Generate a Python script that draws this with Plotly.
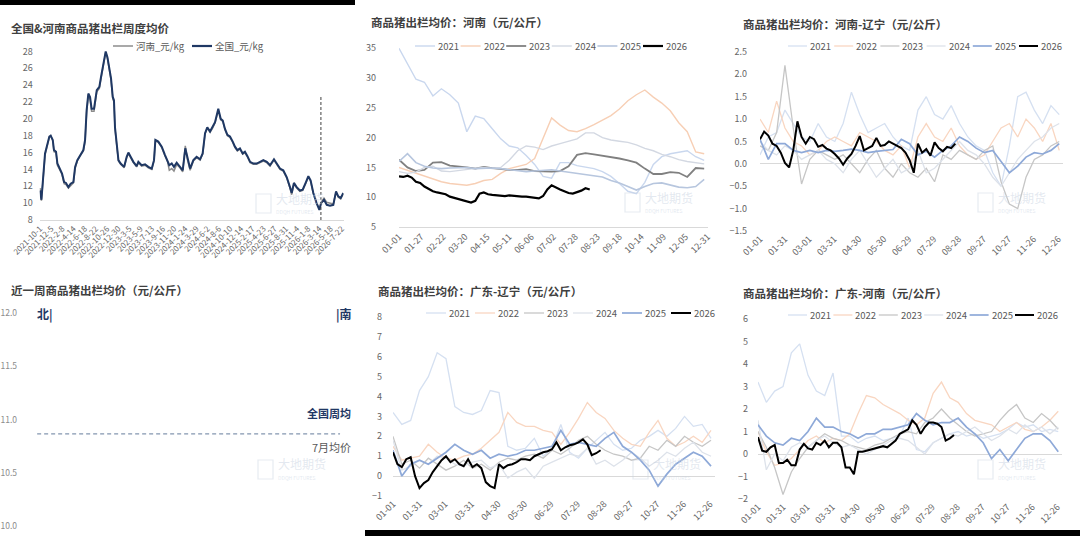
import pandas as pd
import plotly.graph_objects as go

W, H = 1080, 536
FONT = "Noto Sans CJK SC"

# ========== 数据 ==========
# 全国 & 河南 商品猪出栏周度均价 (元/kg)
WEEK_DATES = [
    "2021-10-01", "2021-10-09", "2021-10-30", "2021-11-09", "2021-11-24", "2021-12-02", "2021-12-14", "2021-12-21",
    "2022-01-02", "2022-01-10", "2022-01-25", "2022-02-06", "2022-02-18", "2022-03-01", "2022-03-15", "2022-03-28",
    "2022-04-13", "2022-04-23", "2022-05-06", "2022-05-22", "2022-06-10", "2022-06-20", "2022-06-29", "2022-07-09",
    "2022-07-19", "2022-07-28", "2022-08-11", "2022-08-27", "2022-09-11", "2022-09-21", "2022-10-04", "2022-10-18",
    "2022-10-28", "2022-11-08", "2022-11-18", "2022-11-28", "2022-12-05", "2022-12-11", "2022-12-21", "2022-12-31",
    "2023-01-13", "2023-02-02", "2023-02-17", "2023-02-27", "2023-03-12", "2023-03-28", "2023-04-16", "2023-04-26",
    "2023-05-15", "2023-06-04", "2023-06-23", "2023-07-13", "2023-07-26", "2023-08-03", "2023-08-20", "2023-09-09",
    "2023-09-28", "2023-10-12", "2023-10-23", "2023-11-06", "2023-11-19", "2023-12-05", "2023-12-24", "2024-01-09",
    "2024-01-24", "2024-02-05", "2024-02-21", "2024-03-11", "2024-03-30", "2024-04-19", "2024-05-04", "2024-05-18",
    "2024-05-31", "2024-06-16", "2024-07-01", "2024-07-15", "2024-08-03", "2024-08-17", "2024-08-29", "2024-09-11",
    "2024-09-25", "2024-10-10", "2024-10-26", "2024-11-08", "2024-11-22", "2024-12-07", "2024-12-23", "2025-01-05",
    "2025-01-19", "2025-02-04", "2025-02-23", "2025-03-14", "2025-04-03", "2025-04-22", "2025-05-12", "2025-05-31",
    "2025-06-23", "2025-07-09", "2025-07-28", "2025-08-16", "2025-09-05", "2025-09-24", "2025-10-04", "2025-10-17",
    "2025-11-02", "2025-11-21", "2025-12-07", "2025-12-26", "2026-01-09", "2026-01-22", "2026-02-07", "2026-02-26",
    "2026-03-14", "2026-03-24", "2026-04-10", "2026-04-26", "2026-05-15", "2026-06-03", "2026-06-19", "2026-07-02",
    "2026-07-16", "2026-07-31",
]
NATION = [
    11.5, 10.4, 15.9, 16.7, 17.9, 18.0, 17.5, 16.3, 16.1, 14.7,
    14.1, 13.5, 12.5, 12.4, 11.9, 12.3, 12.5, 14.3, 15.1, 15.7,
    16.3, 17.5, 21.0, 23.0, 22.6, 21.2, 21.2, 23.4, 23.8, 25.0,
    26.5, 28.0, 27.3, 25.8, 24.8, 22.6, 22.2, 19.0, 17.1, 15.1,
    14.7, 14.3, 15.5, 16.0, 15.5, 14.9, 14.4, 14.9, 14.5, 14.6,
    14.3, 14.1, 15.1, 17.5, 17.3, 16.7, 15.7, 15.1, 14.5, 14.7,
    14.3, 14.8, 14.3, 13.9, 16.5, 15.3, 14.1, 15.1, 15.5, 15.2,
    15.9, 18.3, 19.0, 18.5, 19.0, 19.6, 21.2, 20.0, 19.8, 18.8,
    18.1, 17.9, 17.3, 16.7, 16.3, 16.5, 15.9, 16.1, 15.6, 14.9,
    14.7, 14.7, 14.9, 15.1, 14.9, 14.5, 15.2, 14.7, 14.1, 13.9,
    13.1, 11.9, 11.2, 12.4, 11.9, 11.5, 11.6, 12.5, 13.2, 12.7,
    11.2, 10.0, 9.2, 10.0, 10.4, 9.8, 9.7, 9.8, 11.4, 10.8,
    10.6, 11.2,
]
HENAN = [
    11.8, 10.3, 15.7, 16.6, 17.8, 18.0, 17.4, 16.1, 16.0, 14.5,
    13.9, 13.4, 12.3, 12.2, 11.8, 12.1, 12.4, 14.1, 15.0, 15.6,
    16.2, 17.3, 20.8, 22.8, 22.3, 20.9, 20.9, 23.2, 23.6, 24.8,
    26.4, 27.9, 27.2, 25.6, 24.6, 22.4, 22.0, 18.8, 16.9, 15.0,
    14.6, 14.2, 15.4, 15.9, 15.4, 14.8, 14.3, 14.8, 14.4, 14.5,
    14.2, 14.0, 15.0, 17.4, 17.2, 16.6, 15.6, 15.0, 13.9, 14.1,
    13.8, 14.6, 14.2, 13.7, 16.8, 15.2, 13.9, 15.0, 15.4, 15.1,
    15.8, 18.2, 18.9, 18.4, 18.9, 19.5, 21.0, 19.9, 19.7, 18.7,
    18.0, 17.8, 17.2, 16.6, 16.2, 16.4, 15.8, 16.0, 15.5, 14.8,
    14.6, 14.6, 14.8, 15.0, 14.8, 14.4, 15.1, 14.6, 14.0, 13.8,
    13.0, 11.8, 11.0, 12.3, 11.8, 11.4, 11.5, 12.4, 13.1, 12.6,
    11.1, 10.0, 9.3, 10.1, 10.6, 10.1, 10.0, 9.9, 11.3, 10.7,
    10.5, 11.1,
]
WEEK_TICKS = [
    "2021-10-1", "2021-12-5", "2022-2-8", "2022-4-14", "2022-6-18", "2022-8-22", "2022-10-26",
    "2022-12-30", "2023-3-5", "2023-5-9", "2023-7-13", "2023-9-16", "2023-11-20", "2024-1-24",
    "2024-3-29", "2024-6-2", "2024-8-6", "2024-10-10", "2024-12-14", "2025-2-17", "2025-4-23",
    "2025-6-27", "2025-8-31", "2025-11-4", "2026-1-8", "2026-3-14", "2026-5-18", "2026-7-22",
]
MARK_DATE = "2026-03-23"
MARK_TOP = 22.6

# 季节性图 日期(月-日)
GRID10 = [
    "01-01", "01-11", "01-21", "01-31", "02-10", "02-20", "03-02", "03-12", "03-22", "04-01",
    "04-11", "04-21", "05-01", "05-11", "05-21", "05-31", "06-10", "06-20", "06-30", "07-10",
    "07-20", "07-30", "08-09", "08-19", "08-29", "09-08", "09-18", "09-28", "10-08", "10-18",
    "10-28", "11-07", "11-17", "11-27", "12-07", "12-17", "12-27",
]
GRID5 = [
    "01-01", "01-06", "01-11", "01-16", "01-21", "01-26", "01-31", "02-05", "02-10", "02-15",
    "02-20", "02-25", "03-02", "03-07", "03-12", "03-17", "03-22", "03-27", "04-01", "04-06",
    "04-11", "04-16", "04-21", "04-26", "05-01", "05-06", "05-11", "05-16", "05-21", "05-26",
    "05-31", "06-05", "06-10", "06-15", "06-20", "06-25", "06-30", "07-05", "07-10", "07-15",
    "07-20", "07-25", "07-30", "08-04", "08-09", "08-14", "08-19", "08-24",
]
YEARS = ["2021", "2022", "2023", "2024", "2025", "2026"]
TICKS_HN = ["01-01", "01-27", "02-22", "03-20", "04-15", "05-11", "06-06", "07-02",
            "07-28", "08-23", "09-18", "10-14", "11-09", "12-05", "12-31"]
TICKS_SP = ["01-01", "01-31", "03-01", "03-31", "04-30", "05-30", "06-29",
            "07-29", "08-28", "09-27", "10-27", "11-26", "12-26"]

# 河南 (元/公斤)
HN_2021 = [35.0, 32.5, 29.8, 29.3, 27.0, 28.2, 27.2, 25.8, 21.0, 23.6, 23.2, 21.5, 19.8, 18.6, 18.3, 17.0, 15.5, 13.5, 13.2,
           15.8, 15.8, 15.3, 15.0, 14.8, 14.3, 13.5, 12.3, 11.0, 10.6, 12.5, 15.5, 16.8, 17.3, 17.6, 17.8, 16.8, 16.2]
HN_2022 = [15.0, 14.5, 14.0, 13.6, 13.0, 12.6, 12.3, 12.2, 12.0, 12.3, 12.8, 13.0, 14.0, 14.8, 15.2, 15.5, 16.5, 20.0, 23.3,
           22.1, 21.2, 21.0, 21.5, 22.2, 23.0, 23.7, 24.8, 26.2, 27.2, 28.0, 26.8, 25.8, 24.5, 22.5, 21.0, 17.6, 17.3]
HN_2023 = [16.3, 15.0, 14.4, 14.6, 15.8, 15.9, 15.3, 15.2, 15.0, 14.8, 15.1, 14.9, 14.7, 14.6, 14.6, 14.7, 14.4, 14.3, 14.3,
           14.4, 15.2, 17.1, 17.4, 17.2, 17.0, 16.8, 16.5, 16.2, 15.8, 14.8, 13.9, 13.9, 14.2, 14.1, 13.4, 14.9, 14.8]
HN_2024 = [14.3, 14.0, 14.2, 15.0, 15.2, 14.4, 14.3, 14.5, 14.7, 14.9, 15.0, 14.8, 15.0, 16.2, 17.8, 18.6, 18.4, 18.0, 18.6,
           19.0, 19.4, 19.8, 20.8, 20.8, 20.0, 19.6, 19.4, 19.2, 18.8, 18.2, 17.8, 17.2, 16.8, 16.3, 16.0, 15.8, 15.6]
HN_2025 = [16.0, 17.3, 15.8, 15.2, 14.9, 14.8, 14.9, 15.0, 15.0, 14.8, 14.9, 14.9, 14.8, 14.6, 14.5, 14.3, 14.4, 14.5, 14.6,
           14.4, 14.2, 14.0, 13.8, 13.6, 13.4, 12.8, 12.4, 11.8, 11.2, 11.8, 12.3, 12.4, 12.0, 11.7, 11.6, 11.8, 13.0]
HN_2026 = [13.5, 13.4, 13.6, 13.3, 12.6, 12.4, 11.8, 11.4, 11.0, 10.8, 10.6, 10.5, 10.1, 9.9, 9.8, 9.5, 9.3, 9.1, 9.4,
           10.6, 10.8, 10.5, 10.4, 10.3, 10.3, 10.2, 10.3, 10.2, 10.2, 10.1, 10.1, 10.0, 10.0, 9.8, 10.2, 11.3, 12.0,
           11.6, 11.3, 11.0, 10.7, 10.6, 10.8, 11.1, 11.5, 11.3]

# 河南-辽宁 价差
HL_2021 = [0.2, 0.6, 0.7, 1.2, 0.9, 0.6, 0.5, 0.9, 0.6, 0.5, 0.9, 1.6, 1.1, 0.7, 0.8, 0.9, 0.6, 0.4, 0.3,
           1.2, 1.5, 1.1, 1.0, 1.3, 0.9, 0.6, 0.4, 0.3, -0.2, -0.5, 0.4, 1.5, 1.6, 1.2, 0.9, 1.3, 1.1]
HL_2022 = [1.0, 0.7, 1.4, 0.8, 0.5, 0.4, 0.2, 0.3, 0.5, 0.6, 0.5, 0.4, 0.7, 0.6, 0.5, 0.3, 0.2, 0.4, -0.1,
           0.6, 0.9, 0.6, 0.5, 0.8, 0.4, 0.2, 0.1, 0.2, 0.5, 0.8, 0.9, 0.6, 1.0, 0.8, 0.5, 0.9, 0.3]
HL_2023 = [0.4, 0.3, 0.7, 2.2, 0.8, -0.45, 0.1, 0.3, 0.2, 0.1, 0.2, 0.0, -0.2, 0.1, 0.3, -0.1, -0.3, 0.0, -0.2,
           -0.3, -0.1, -0.4, 0.2, 0.1, 0.3, 0.2, 0.1, 0.3, 0.4, -0.4, -0.9, -1.0, -0.3, 0.1, 0.2, 0.4, 0.5]
HL_2024 = [0.5, 0.3, 0.2, 0.4, 0.3, 0.1, 0.2, 0.3, 0.1, 0.0, -0.2, 0.1, 0.3, 0.0, -0.3, -0.1, 0.1, -0.2, -0.1,
           0.3, -0.2, -0.1, 0.1, 0.3, 0.5, 0.3, 0.2, 0.0, -0.3, -0.5, -0.2, 0.1, 0.3, 0.5, 0.6, 0.8, 0.9]
HL_2025 = [0.55, 0.1, 0.45, 0.45, 0.30, 0.25, 0.30, 0.25, 0.30, 0.28, 0.30, 0.33, 0.30, 0.25, 0.28, 0.30, 0.32, 0.55, 0.45,
           0.20, 0.28, 0.15, 0.30, 0.40, 0.60, 0.50, 0.35, 0.25, 0.30, 0.05, -0.20, -0.05, 0.15, 0.25, 0.22, 0.30, 0.45]
HL_2026 = [0.55, 0.72, 0.63, 0.45, 0.40, 0.25, 0.02, -0.08, 0.30, 0.95, 0.60, 0.45, 0.60, 0.55, 0.38, 0.42, 0.34, 0.30,
           0.22, 0.12, -0.02, 0.12, 0.22, 0.40, 0.62, 0.30, 0.35, 0.40, 0.58, 0.40, 0.42, 0.50, 0.45, 0.40, 0.35, 0.25,
           0.08, -0.20, 0.45, 0.25, 0.33, 0.18, 0.48, 0.35, 0.28, 0.38, 0.35, 0.45]

# 广东-辽宁 价差
GL_2021 = [3.2, 2.6, 2.8, 4.3, 5.0, 6.2, 5.9, 3.5, 3.2, 3.1, 3.3, 4.3, 4.2, 1.5, 1.3, 1.4, 1.9, 1.0, 1.4,
           2.6, 1.2, 0.9, 1.4, 1.8, 2.2, 1.6, 1.3, 1.4, 1.8, 2.0, 2.3, 2.0, 2.4, 3.0, 2.5, 2.6, 1.9]
GL_2022 = [1.5, 0.8, 0.9, 1.0, 1.6, 1.2, 0.9, 0.8, 1.0, 1.1, 1.4, 1.8, 2.2, 3.2, 2.7, 2.5, 2.5, 2.3, 2.2,
           1.6, 2.2, 2.9, 3.7, 3.2, 2.9, 2.3, 1.9, 1.6, 1.5, 2.2, 2.8, 1.9, 1.5, 1.7, 2.0, 1.7, 2.3]
GL_2023 = [2.0, 0.6, 0.8, 0.4, 0.9, 0.6, 0.3, 0.5, 0.8, 0.4, 0.6, 0.3, 0.7, 0.9, 0.8, 1.0, 1.1, 0.9, 1.3,
           1.1, 1.4, 1.8, 2.0, 1.6, 1.3, 1.1, 1.0, 0.8, 0.9, 1.5, 1.3, 1.8, 1.5, 2.0, 1.7, 1.5, 1.8]
GL_2024 = [1.8, 0.3, 0.5, 0.8, 0.6, 1.0, 0.9, 0.6, 0.5, 0.7, 0.8, 0.4, 0.6, -0.1, 0.2, 0.4, -0.1, 0.5, 0.7,
           0.9, 1.1, 1.0, 1.4, 0.6, 0.8, 0.5, 0.8, 1.2, 0.9, 0.5, 0.8, 1.2, 1.0, 1.4, 1.7, 1.2, 1.0]
GL_2025 = [1.3, 0.0, 0.6, 0.8, 0.6, 0.9, 1.2, 1.6, 1.3, 1.1, 1.3, 0.9, 1.1, 1.0, 1.1, 1.3, 1.3, 1.4, 1.5,
           2.3, 1.6, 1.7, 1.6, 1.5, 1.9, 2.2, 1.5, 1.2, 0.8, 0.3, -0.5, 0.1, 0.6, 0.9, 1.2, 1.0, 0.5]
GL_2026 = [1.2, 0.6, 0.45, 0.85, 0.95, 0.0, -0.6, -0.35, -0.2, 0.2, 0.5, 0.8, 1.0, 0.7, 0.85, 0.6, 0.5, 0.85,
           0.45, 0.6, 0.4, -0.3, -0.5, -0.6, 0.6, 0.4, 0.55, 0.6, 0.7, 0.85, 0.85, 0.8, 1.0, 1.1, 1.2, 1.25,
           1.35, 1.7, 1.3, 1.45, 1.55, 1.6, 1.7, 1.85, 1.6, 1.05, 1.15, 1.3]

# 广东-河南 价差
GH_2021 = [3.2, 2.3, 2.8, 3.0, 4.5, 4.9, 3.5, 2.8, 2.6, 3.6, 0.8, 0.8, 0.5, 0.7, 0.8, 0.6, 0.7, 0.8, 1.6,
           0.2, 0.1, 0.5, 0.7, 0.9, 1.0, 0.8, 0.9, 0.7, 0.8, 0.9, 1.1, 1.4, 1.2, 1.3, 1.0, 1.1, 1.0]
GH_2022 = [1.0, 0.1, -0.5, -0.4, -0.2, 0.2, 0.6, 0.8, 0.5, 0.7, 0.6, 0.9, 1.8, 2.6, 2.5, 2.2, 2.0, 1.8, 1.5,
           1.3, 1.6, 2.7, 3.2, 2.5, 2.3, 1.8, 1.5, 1.4, 1.3, 1.0, 1.2, 1.4, 1.1, 1.0, 1.2, 1.5, 1.9]
GH_2023 = [1.0, 0.3, -0.6, -1.8, -0.8, -0.2, 0.3, 0.6, 0.9, 0.7, 0.6, 0.4, 0.3, 0.2, 0.4, 0.5, 0.7, 0.9, 1.0,
           0.9, 1.4, 1.6, 2.0, 1.6, 1.3, 1.0, 0.8, 0.9, 1.0, 1.5, 1.9, 2.2, 1.6, 1.4, 1.8, 1.5, 1.1]
GH_2024 = [1.5, -0.7, 0.0, -0.3, 0.3, 0.5, 0.3, 0.6, 0.8, 0.5, 0.3, 0.4, 0.2, 0.0, 0.2, 0.4, 0.6, 0.7, 0.6,
           0.3, 0.0, 0.5, 0.7, 0.9, 0.8, 1.0, 1.2, 0.9, 0.6, 0.8, 1.1, 0.9, 1.3, 1.0, 1.2, 0.9, 1.2]
GH_2025 = [1.3, 0.8, 0.5, 0.4, 0.7, 0.6, 1.0, 1.6, 1.2, 1.2, 1.0, 0.9, 0.7, 0.9, 0.9, 1.1, 1.1, 1.2, 1.3,
           1.8, 1.5, 1.3, 1.4, 1.4, 1.6, 1.2, 0.9, 0.5, -0.2, 0.2, -0.3, 0.2, 0.7, 0.9, 0.9, 0.6, 0.1]
GH_2026 = [0.75, 0.15, 0.1, 0.3, 0.4, -0.4, -0.4, -0.25, -0.5, -0.5, 0.2, 0.45, 0.25, 0.2, 0.5, 0.4, 0.6, 0.3,
           0.5, 0.5, 0.3, -0.6, -0.6, -0.9, 0.1, 0.1, 0.15, 0.2, 0.27, 0.3, 0.35, 0.3, 0.45, 0.6, 0.9, 1.0,
           1.1, 1.5, 1.3, 0.9, 1.2, 1.4, 1.4, 1.35, 1.2, 0.6, 0.7, 0.85]

# 近一周 (元/公斤)
JULY_AVG = 10.86

# ========== 样式 ==========
COL_HN = ["#c9d7ee", "#f7cfb5", "#808080", "#d3d8e2", "#b7c6de", "#000000"]
WID_HN = [1.4, 1.4, 1.8, 1.4, 1.6, 2.2]
COL_SP = ["#d5e0f1", "#f9d6c1", "#c6c6c6", "#dde2ea", "#8ea9d8", "#000000"]
WID_SP = [1.3, 1.3, 1.3, 1.3, 1.7, 2.0]

# 各子图像素位置 (x0, x1, y0, y1)
BOX = {
    1: (39.7, 343.6, 51, 220),
    2: (399, 708, 48, 227),
    3: (760, 1063, 51, 231),
    4: (30, 355, 312, 526),
    5: (393, 715, 316, 496),
    6: (758, 1062, 318, 499),
}

fig = go.Figure()
shapes, annos = [], []


def ax_id(n):
    return "" if n == 1 else str(n)


def add_seasonal(n, series, colors, widths):
    for yr, vals, c, w in zip(YEARS, series, colors, widths):
        grid = GRID5 if yr == "2026" else GRID10
        fig.add_trace(go.Scatter(
            x=["2001-" + d for d in grid[:len(vals)]], y=vals,
            mode="lines", line=dict(color=c, width=w), name=yr,
            xaxis="x" + ax_id(n), yaxis="y" + ax_id(n),
            showlegend=False, hoverinfo="skip",
        ))


# --- 图1 ---
fig.add_trace(go.Scatter(x=WEEK_DATES, y=HENAN, mode="lines", line=dict(color="#8c8c8c", width=1.5),
                         name="河南_元/kg", showlegend=False, xaxis="x", yaxis="y"))
fig.add_trace(go.Scatter(x=WEEK_DATES, y=NATION, mode="lines", line=dict(color="#1f3864", width=2),
                         name="全国_元/kg", showlegend=False, xaxis="x", yaxis="y"))

add_seasonal(2, [HN_2021, HN_2022, HN_2023, HN_2024, HN_2025, HN_2026], COL_HN, WID_HN)
add_seasonal(3, [HL_2021, HL_2022, HL_2023, HL_2024, HL_2025, HL_2026], COL_SP, WID_SP)
add_seasonal(5, [GL_2021, GL_2022, GL_2023, GL_2024, GL_2025, GL_2026], COL_SP, WID_SP)
add_seasonal(6, [GH_2021, GH_2022, GH_2023, GH_2024, GH_2025, GH_2026], COL_SP, WID_SP)

# 图4 占位 (柱子缺失)
fig.add_trace(go.Scatter(x=[], y=[], mode="lines", xaxis="x4", yaxis="y4", showlegend=False))

tick_font = dict(family=FONT, size=9, color="#666666")


def xaxis_cfg(n, **kw):
    x0, x1, _, _ = BOX[n]
    d = dict(domain=[x0 / W, x1 / W], anchor="y" + ax_id(n), showgrid=False, zeroline=False,
             ticks="", tickfont=tick_font, fixedrange=True, automargin=False)
    d.update(kw)
    return d


def yaxis_cfg(n, rng, dtick, standoff, **kw):
    _, _, y0, y1 = BOX[n]
    d = dict(domain=[1 - y1 / H, 1 - y0 / H], anchor="x" + ax_id(n), range=rng, dtick=dtick,
             tick0=rng[0], showgrid=False, zeroline=False, showline=False, ticks="",
             tickfont=tick_font, ticklabelstandoff=standoff, fixedrange=True, automargin=False)
    d.update(kw)
    return d


week_ticks_iso = pd.to_datetime(WEEK_TICKS).strftime("%Y-%m-%d").tolist()

layout_axes = dict(
    xaxis=xaxis_cfg(1, type="date", range=["2021-09-29", "2026-08-02"], tickmode="array",
                    tickvals=week_ticks_iso, ticktext=WEEK_TICKS, tickangle=-45,
                    tickfont=dict(family=FONT, size=8, color="#666666"),
                    showline=True, linecolor="#d9d9d9", linewidth=1),
    yaxis=yaxis_cfg(1, [8, 28.05], 2, 6),
    xaxis2=xaxis_cfg(2, type="date", range=["2001-01-01", "2001-12-31 12:00"], tickmode="array",
                     tickvals=["2001-" + t for t in TICKS_HN], ticktext=TICKS_HN, tickangle=-45,
                     showline=True, linecolor="#d9d9d9", linewidth=1),
    yaxis2=yaxis_cfg(2, [5, 35.05], 5, 22),
    xaxis3=xaxis_cfg(3, type="date", range=["2001-01-01", "2001-12-31 12:00"], tickmode="array",
                     tickvals=["2001-" + t for t in TICKS_SP], ticktext=TICKS_SP, tickangle=-45,
                     showline=False),
    yaxis3=yaxis_cfg(3, [-1.5, 2.52], 0.5, 12, tickformat=".1f",
                     zeroline=True, zerolinecolor="#d9d9d9", zerolinewidth=1),
    xaxis4=xaxis_cfg(4, range=[0, 1], visible=False),
    yaxis4=yaxis_cfg(4, [9.995, 12.005], 0.5, 12, tickformat=".1f",
                     tickfont=dict(family=FONT, size=8.5, color="#8c8c8c")),
    xaxis5=xaxis_cfg(5, type="date", range=["2001-01-01", "2001-12-31 12:00"], tickmode="array",
                     tickvals=["2001-" + t for t in TICKS_SP], ticktext=TICKS_SP, tickangle=-45,
                     showline=False),
    yaxis5=yaxis_cfg(5, [-1, 8.05], 1, 10, zeroline=True, zerolinecolor="#d9d9d9", zerolinewidth=1),
    xaxis6=xaxis_cfg(6, type="date", range=["2001-01-01", "2001-12-31 12:00"], tickmode="array",
                     tickvals=["2001-" + t for t in TICKS_SP], ticktext=TICKS_SP, tickangle=-45,
                     showline=False),
    yaxis6=yaxis_cfg(6, [-2, 6.05], 1, 9, zeroline=True, zerolinecolor="#d9d9d9", zerolinewidth=1),
)


# --- 标题 ---
def title(text, x, y):
    annos.append(dict(text="<b>" + text + "</b>", x=x / W, y=1 - y / H, xref="paper", yref="paper",
                      xanchor="left", yanchor="middle", showarrow=False,
                      font=dict(family=FONT, size=11.5, color="#404040")))


title("全国&河南商品猪出栏周度均价", 9, 28)
title("商品猪出栏均价：河南（元/公斤）", 369, 22)
title("商品猪出栏均价：河南-辽宁（元/公斤）", 741, 24)
title("近一周商品猪出栏均价（元/公斤）", 9, 290)
title("商品猪出栏均价：广东-辽宁（元/公斤）", 376, 291)
title("商品猪出栏均价：广东-河南（元/公斤）", 741, 293)


# --- 自绘图例 ---
def legend_row(x0, y, step, labels, colors, widths, seg=20):
    for i, (lab, c, w) in enumerate(zip(labels, colors, widths)):
        xs = x0 + i * step
        shapes.append(dict(type="line", xref="paper", yref="paper", x0=xs / W, x1=(xs + seg) / W,
                           y0=1 - y / H, y1=1 - y / H, line=dict(color=c, width=w)))
        annos.append(dict(text=lab, x=(xs + seg + 1) / W, y=1 - y / H, xref="paper", yref="paper",
                          xanchor="left", yanchor="middle", showarrow=False,
                          font=dict(family=FONT, size=9.5, color="#595959")))


legend_row(113, 46, 79, ["河南_元/kg", "全国_元/kg"], ["#8c8c8c", "#1f3864"], [1.5, 2.2])
legend_row(415, 46, 45.6, YEARS, COL_HN, WID_HN)
legend_row(788, 46, 46.2, YEARS, COL_SP, WID_SP, seg=19)
legend_row(426, 313, 49, YEARS, COL_SP, WID_SP)
legend_row(788, 315, 45.4, YEARS, COL_SP, WID_SP, seg=19)

# --- 图1 竖虚线 ---
shapes.append(dict(type="line", xref="x", yref="y", x0=MARK_DATE, x1=MARK_DATE, y0=8, y1=MARK_TOP,
                   line=dict(color="#404040", width=1, dash="3px,2px")))

# --- 图4 ---
shapes.append(dict(type="line", xref="x4 domain", yref="y4", x0=0.022, x1=0.954, y0=JULY_AVG, y1=JULY_AVG,
                   line=dict(color="#8496b0", width=1.3, dash="4px,3px")))
for txt, x, anchor in [("<b>北|</b>", 35, "left"), ("<b>|南</b>", 354, "right")]:
    annos.append(dict(text=txt, x=x / W, y=1 - 314 / H, xref="paper", yref="paper", xanchor=anchor,
                      yanchor="middle", showarrow=False, font=dict(family=FONT, size=12, color="#1f3864")))
annos.append(dict(text="<b>全国周均</b>", x=353 / W, y=1 - 413 / H, xref="paper", yref="paper",
                  xanchor="right", yanchor="middle", showarrow=False,
                  font=dict(family=FONT, size=11, color="#1f3864")))
annos.append(dict(text="7月均价", x=353 / W, y=1 - 447 / H, xref="paper", yref="paper",
                  xanchor="right", yanchor="middle", showarrow=False,
                  font=dict(family=FONT, size=11, color="#595959")))

# --- 水印 ---
for cx, cy in [(256, 203), (625, 202), (978, 202), (258, 469), (633, 469), (978, 469)]:
    shapes.append(dict(type="rect", xref="paper", yref="paper", x0=cx / W, x1=(cx + 15) / W,
                       y0=1 - (cy + 10) / H, y1=1 - (cy - 9) / H,
                       line=dict(color="rgba(200,210,225,0.45)", width=1.2)))
    annos.append(dict(text="大地期货", x=(cx + 19) / W, y=1 - (cy - 5) / H, xref="paper", yref="paper",
                      xanchor="left", yanchor="middle", showarrow=False, borderpad=0,
                      font=dict(family=FONT, size=12, color="rgba(200,210,225,0.5)")))
    annos.append(dict(text="DDQH FUTURES", x=(cx + 19) / W, y=1 - (cy + 8) / H, xref="paper", yref="paper",
                      xanchor="left", yanchor="middle", showarrow=False, borderpad=0,
                      font=dict(family=FONT, size=5, color="rgba(200,210,225,0.5)")))

# --- 截图黑边 ---
shapes.append(dict(type="rect", xref="paper", yref="paper", x0=0, x1=355 / W, y0=1 - 5 / H, y1=1,
                   fillcolor="black", line=dict(width=0)))
shapes.append(dict(type="rect", xref="paper", yref="paper", x0=365 / W, x1=1, y0=0, y1=6 / H,
                   fillcolor="black", line=dict(width=0)))

fig.update_layout(
    width=W, height=H,
    margin=dict(l=0, r=0, t=0, b=0),
    paper_bgcolor="white", plot_bgcolor="white",
    font=dict(family=FONT),
    showlegend=False,
    hovermode=False,
    shapes=shapes,
    annotations=annos,
    **layout_axes,
)

# 页面去掉 body 默认边距, 让图正好铺满窗口
fig.write_html("out.html", config=dict(displayModeBar=False),
               post_script="document.body.style.margin='0';document.body.style.overflow='hidden';")
